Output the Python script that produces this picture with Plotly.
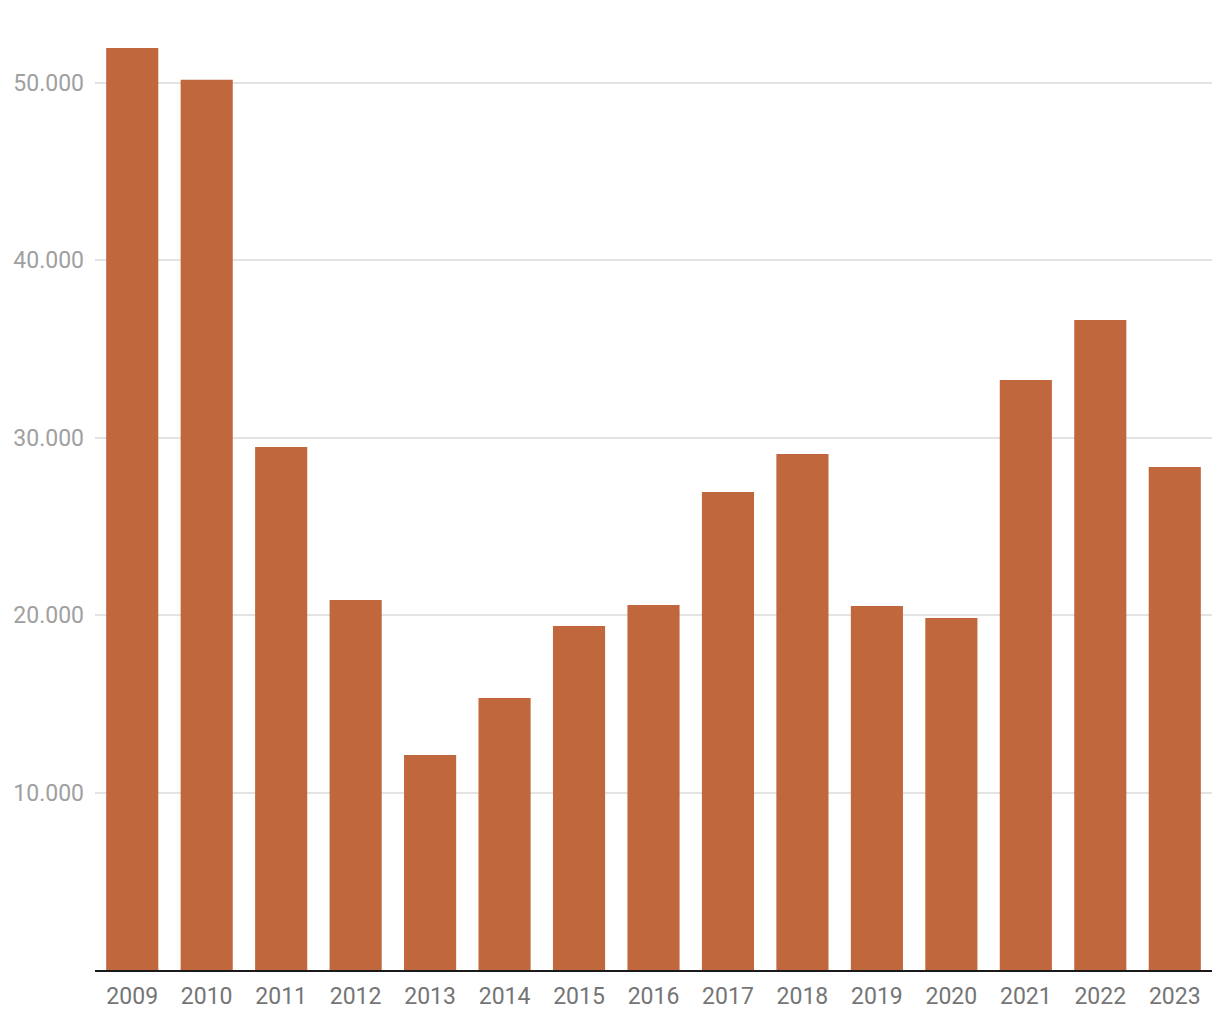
import plotly.graph_objects as go

years = ["2009", "2010", "2011", "2012", "2013", "2014", "2015", "2016",
         "2017", "2018", "2019", "2020", "2021", "2022", "2023"]
values = [51950, 50150, 29470, 20850, 12110, 15320, 19380, 20560,
          26930, 29070, 20510, 19830, 33240, 36620, 28340]
tick_vals = [10000, 20000, 30000, 40000, 50000]

fig = go.Figure(go.Bar(
    x=years, y=values,
    marker=dict(color="#c0673e", line=dict(width=0)),
))

fig.update_layout(
    width=1220, height=1020,
    margin=dict(l=95, r=8, t=30, b=50),
    paper_bgcolor="white", plot_bgcolor="white",
    bargap=0.3,
    separators=",.",
    showlegend=False,
    font=dict(family="Roboto", size=23),
)
fig.update_xaxes(
    type="category",
    showline=True, linecolor="#1a1a1a", linewidth=2,
    showgrid=False, ticks="",
    tickfont=dict(color="#757575", size=23),
    ticklabelstandoff=4,
)
fig.update_yaxes(
    range=[0, 52958],
    tickvals=tick_vals, tickformat=",d",
    showgrid=True, gridcolor="#e3e3e3", gridwidth=1.5,
    zeroline=False, showline=False, ticks="",
    tickfont=dict(color="#a0a0a0", size=23),
    ticklabelstandoff=10,
)

fig.write_html("out.html")
